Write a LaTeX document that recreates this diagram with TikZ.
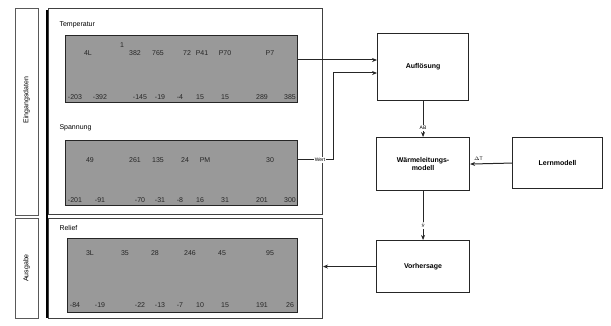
\documentclass[tikz,border=0pt]{standalone}
\usepackage{fontspec}
\setmainfont{Liberation Sans}
\usetikzlibrary{arrows.meta}
\begin{document}
\begin{tikzpicture}[x=1pt,y=-1pt,
  frame/.style={draw=black!75,line width=1pt},
  strip/.style={draw=black!65,line width=0.7pt},
  heat/.style={draw=black!85,fill=black!40,line width=1pt},
  blk/.style={draw=black!85,line width=1.1pt,fill=white,align=center,font=\scriptsize\bfseries},
  conn/.style={draw=black!85,line width=1pt,-{Stealth[length=5pt,width=4pt]}},
  lab/.style={font=\scriptsize,anchor=west},
  num/.style={font=\scriptsize,text=black!85},
  tiny/.style={font=\tiny}]
\useasboundingbox (0,0) rectangle (611,326);
% left strips
\node[strip,minimum width=23,minimum height=207,anchor=north west] (s1) at (15,8) {};
\node[font=\scriptsize,rotate=90] (s1t) at (26.5,100) {Eingangsdaten};
\node[strip,minimum width=23,minimum height=100,anchor=north west] (s2) at (15,218) {};
\node[font=\scriptsize,rotate=90] (s2t) at (26.5,268) {Ausgabe};
% frames
\node[frame,minimum width=274,minimum height=206,anchor=north west] (f1) at (48,8) {};
\node[frame,minimum width=274,minimum height=100,anchor=north west] (f2) at (48,218) {};
\draw[black,line width=2pt] (47,10) -- (47,318);
% panel labels
\node[lab] (l1) at (56,25) {Temperatur};
\node[lab] (l2) at (56,128) {Spannung};
\node[lab] (l3) at (56,228) {Relief};
% heat maps
\node[heat,minimum width=232,minimum height=67,anchor=north west] (h1) at (65,35) {};
\node[heat,minimum width=232,minimum height=65,anchor=north west] (h2) at (65,140) {};
\node[heat,minimum width=230,minimum height=74,anchor=north west] (h3) at (67,238) {};
% numbers top panel
\foreach \x/\t [count=\i] in {88/4L,135/382,158/765,187/72,202/P41,225/P70,270/P7}
  \node[num] (a\i) at (\x,53) {\t};
\node[num] (a0) at (122,45) {1};
\foreach \x/\t [count=\i] in {75/-203,100/-392,140/-145,160/-19,180/-4,200/15,225/15,262/289,290/385}
  \node[num] (b\i) at (\x,97) {\t};
% numbers second panel
\foreach \x/\t [count=\i] in {90/49,135/261,158/135,185/24,205/PM,270/30}
  \node[num] (c\i) at (\x,160) {\t};
\foreach \x/\t [count=\i] in {75/-201,100/-91,140/-70,160/-31,180/-8,200/16,225/31,262/201,290/300}
  \node[num] (d\i) at (\x,200) {\t};
% numbers bottom panel
\foreach \x/\t [count=\i] in {90/3L,125/35,155/28,190/246,222/45,270/95}
  \node[num] (e\i) at (\x,253) {\t};
\foreach \x/\t [count=\i] in {75/-84,100/-19,140/-22,160/-13,180/-7,200/10,225/15,262/191,290/26}
  \node[num] (g\i) at (\x,305) {\t};
% right blocks
\node[blk,minimum width=91,minimum height=67,anchor=north west] (aus) at (377,33) {Auflösung};
\node[blk,minimum width=93,minimum height=53,anchor=north west] (mod) at (376,137) {Wärmeleitungs-\\modell};
\node[blk,minimum width=90,minimum height=51,anchor=north west] (lern) at (512,137) {Lernmodell};
\node[blk,minimum width=93,minimum height=52,anchor=north west] (vor) at (376,240) {Vorhersage};
% connectors
\coordinate (k1) at (333,160);
\coordinate (k2) at (333,73);
\draw[conn] (h1.east |- 0,60) -- (aus.west |- 0,60);
\draw[conn] (h2.east |- k1) -- (k1) -- (k2) -- (aus.west |- k2);
\node[tiny,fill=white,inner sep=1pt] (wl) at (320,160) {Wert};
\draw[conn] (aus.south) -- node[tiny,fill=white,inner sep=1pt,pos=0.75] (ab) {AB} (mod.north);
\draw[conn] (lern.west) -- node[tiny,above,pos=0.8] (dl) {$\Delta$T} (mod.east);
\draw[conn] (mod.south) -- node[tiny,fill=white,inner sep=1pt,pos=0.7] (vl) {$\hat{y}$} (vor.north);
\draw[conn] (vor.west) -- (f2.east |- vor.west);
\end{tikzpicture}
\end{document}
